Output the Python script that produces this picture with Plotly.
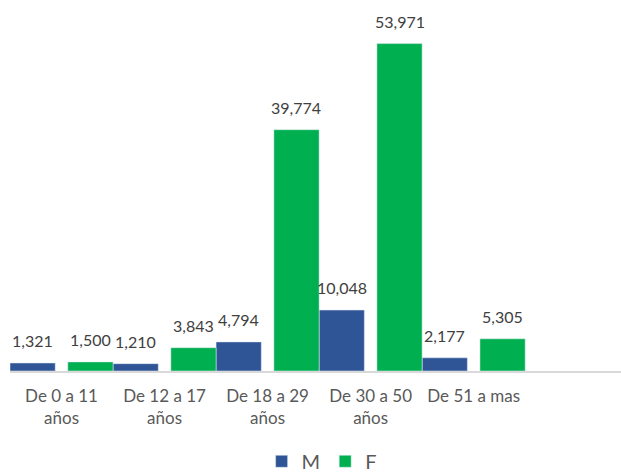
import plotly.graph_objects as go

categories = ["De 0 a 11<br>años", "De 12 a 17<br>años", "De 18 a 29<br>años",
              "De 30 a 50<br>años", "De 51 a mas"]
m_values = [1321, 1210, 4794, 10048, 2177]
f_values = [1500, 3843, 39774, 53971, 5305]
series_names = ["M", "F"]

BLUE = "#2F5597"
GREEN = "#00B050"
BAR_W = 0.439
FONT = "Lato, Carlito, sans-serif"

x_idx = list(range(len(categories)))

fig = go.Figure()
fig.add_trace(go.Bar(x=x_idx, y=m_values, name=series_names[0], marker_color=BLUE,
                     offset=-0.5, width=BAR_W, hoverinfo="y"))
fig.add_trace(go.Bar(x=x_idx, y=f_values, name=series_names[1], marker_color=GREEN,
                     offset=0.5 - BAR_W, width=BAR_W, hoverinfo="y"))

annotations = []
for i, v in enumerate(m_values):
    annotations.append(dict(x=i - 0.5 + BAR_W / 2, y=v, text=f"{v:,}", showarrow=False,
                            yanchor="bottom", yshift=11, xref="x", yref="y",
                            font=dict(family=FONT, size=16, color="#404040")))
for i, v in enumerate(f_values):
    annotations.append(dict(x=i + 0.5 - BAR_W / 2, y=v, text=f"{v:,}", showarrow=False,
                            yanchor="bottom", yshift=11, xref="x", yref="y",
                            font=dict(family=FONT, size=16, color="#404040")))

fig.update_layout(
    width=621, height=475,
    margin=dict(l=10, r=0, t=7, b=104, autoexpand=False),
    paper_bgcolor="white", plot_bgcolor="white",
    barmode="overlay",
    showlegend=True,
    legend=dict(orientation="h", x=0.51, xanchor="center", y=-0.248, yanchor="middle",
                font=dict(family=FONT, size=20, color="#595959"),
                itemwidth=30, traceorder="normal"),
    annotations=annotations,
    font=dict(family=FONT),
)
fig.update_xaxes(
    tickmode="array", tickvals=x_idx, ticktext=categories,
    range=[-0.5, 5.43], showgrid=False, zeroline=False, automargin=False,
    showline=True, linecolor="#D9D9D9", linewidth=1.5, ticks="",
    ticklabelstandoff=9,
    tickfont=dict(family=FONT, size=17, color="#595959"),
)
fig.update_yaxes(range=[0, 60000], visible=False, showgrid=False, zeroline=False,
                 automargin=False)

fig.write_html("out.html", config={"displayModeBar": False},
               post_script="document.body.style.margin='0';document.body.style.padding='0';")
